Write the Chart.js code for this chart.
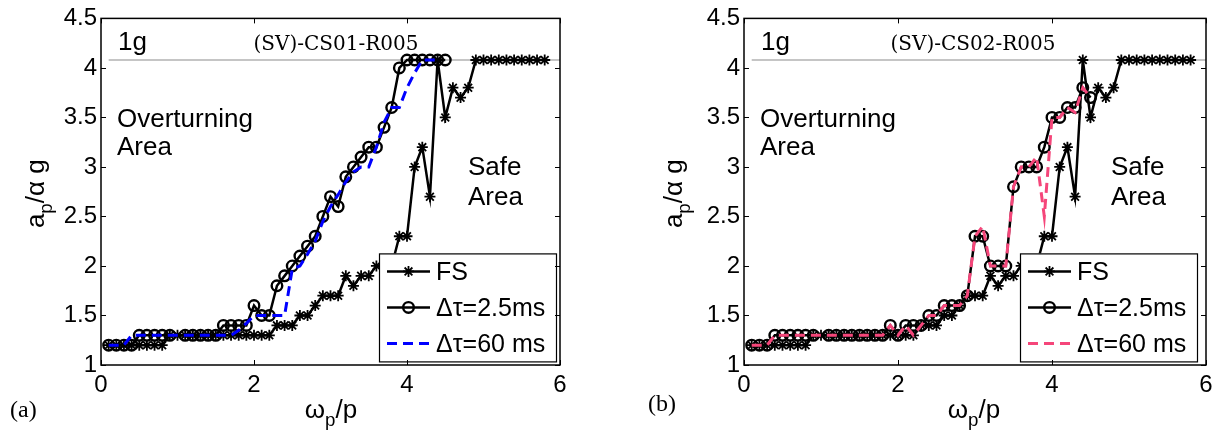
<!DOCTYPE html>
<html>
<head>
<meta charset="utf-8">
<script src="https://cdn.jsdelivr.net/npm/chart.js@4/dist/chart.umd.min.js"></script>
<style>
  html, body { margin: 0; padding: 0; background: #fff; }
  #wrap { position: relative; width: 1227px; height: 437px; overflow: hidden; }
  canvas { position: absolute; top: 0; }
  #cvA { left: 0; }
  #cvB { left: 613px; }
</style>
</head>
<body>
<div id="wrap">
  <canvas id="cvA" width="613" height="437"></canvas>
  <canvas id="cvB" width="614" height="437"></canvas>
</div>
<script>
// ---- axis ticks ----
const xTicks = [0, 2, 4, 6];
const yTicks = [1, 1.5, 2, 2.5, 3, 3.5, 4, 4.5];

// ---- overturning limit (1g) ----
const limitLevel = 4.08;
const limitRange = [0.1, 6];

// ---- fixed-base (FS) response, shared by both cases ----
const fsOmega = [0.1,0.2,0.3,0.4,0.5,0.6,0.7,0.8,0.9,1.0,1.1,1.2,1.3,1.4,1.5,1.6,1.7,1.8,1.9,2.0,
  2.1,2.2,2.3,2.4,2.5,2.6,2.7,2.8,2.9,3.0,3.1,3.2,3.3,3.4,3.5,3.6,3.7,3.8,3.9,4.0,
  4.1,4.2,4.3,4.4,4.5,4.6,4.7,4.8,4.9,5.0,5.1,5.2,5.3,5.4,5.5,5.6,5.7,5.8];
const fsAccel = [1.2,1.2,1.2,1.2,1.2,1.2,1.2,1.2,1.3,1.3,1.3,1.3,1.3,1.3,1.3,1.3,1.3,1.3,1.3,1.3,
  1.3,1.3,1.4,1.4,1.4,1.5,1.5,1.6,1.7,1.7,1.7,1.9,1.8,1.9,1.9,2.0,2.0,2.0,2.3,2.3,
  3.0,3.2,2.7,4.08,3.5,3.8,3.7,3.8,4.08,4.08,4.08,4.08,4.08,4.08,4.08,4.08,4.08,4.08];

// ---- (SV)-CS01-R005 ----
const cs01Omega25 = [0.1,0.2,0.3,0.4,0.5,0.6,0.7,0.8,0.9,1.1,1.2,1.3,1.4,1.5,1.6,1.7,1.8,1.9,2.0,
  2.1,2.2,2.3,2.4,2.5,2.6,2.7,2.8,2.9,3.0,3.1,3.2,3.3,3.4,3.5,3.6,3.7,3.8,3.9,4.0,4.1,4.2,4.3,4.4,4.5];
const cs01Accel25 = [1.2,1.2,1.2,1.2,1.3,1.3,1.3,1.3,1.3,1.3,1.3,1.3,1.3,1.3,1.4,1.4,1.4,1.4,1.6,
  1.5,1.5,1.8,1.9,2.0,2.1,2.2,2.3,2.5,2.7,2.6,2.9,3.0,3.1,3.2,3.2,3.4,3.6,4.0,4.08,4.08,4.08,4.08,4.08,4.08];
const cs01Omega60 = [0.1,0.2,0.3,0.4,0.5,0.6,0.7,0.8,0.9,1.0,1.1,1.2,1.3,1.4,1.5,1.6,1.7,1.8,1.9,2.0,
  2.1,2.2,2.3,2.4,2.5,2.6,2.7,2.8,2.9,3.0,3.1,3.2,3.3,3.4,3.5,3.6,3.7,3.8,3.9,4.0,4.1,4.2,4.3,4.4];
const cs01Accel60 = [1.2,1.2,1.2,1.3,1.3,1.3,1.3,1.3,1.3,1.3,1.3,1.3,1.3,1.3,1.3,1.3,1.3,1.35,1.42,1.5,
  1.5,1.5,1.5,1.5,1.97,2.0,2.12,2.25,2.45,2.6,2.72,2.85,2.95,3.0,3.0,3.2,3.45,3.6,3.6,3.8,3.95,4.08,4.08,4.08];

// ---- (SV)-CS02-R005 ----
const cs02Omega25 = [0.1,0.2,0.3,0.4,0.5,0.6,0.7,0.8,0.9,1.1,1.2,1.3,1.4,1.5,1.6,1.7,1.8,1.9,2.0,
  2.1,2.2,2.3,2.4,2.5,2.6,2.7,2.8,2.9,3.0,3.1,3.2,3.3,3.4,3.5,3.6,3.7,3.8,3.9,4.0,4.1,4.2,4.3,4.4,4.5];
const cs02Accel25 = [1.2,1.2,1.2,1.3,1.3,1.3,1.3,1.3,1.3,1.3,1.3,1.3,1.3,1.3,1.3,1.3,1.3,1.4,1.3,
  1.4,1.4,1.4,1.5,1.5,1.6,1.6,1.6,1.7,2.3,2.3,2.0,2.0,2.0,2.8,3.0,3.0,3.0,3.2,3.5,3.5,3.6,3.6,3.8,3.7];
const cs02Omega60 = [0.1,0.2,0.3,0.4,0.5,0.6,0.7,0.8,0.9,1.0,1.1,1.2,1.3,1.4,1.5,1.6,1.7,1.8,1.9,2.0,
  2.1,2.2,2.3,2.4,2.5,2.6,2.7,2.8,2.9,3.0,3.1,3.2,3.3,3.4,3.5,3.6,3.7,3.8,3.9,4.0,4.1,4.2,4.3,4.4,4.5];
const cs02Accel60 = [1.2,1.2,1.2,1.3,1.3,1.3,1.3,1.3,1.3,1.3,1.3,1.3,1.3,1.3,1.3,1.3,1.3,1.3,1.4,1.3,
  1.4,1.3,1.4,1.5,1.5,1.6,1.6,1.6,1.7,2.3,2.4,2.0,2.0,2.0,2.8,3.0,3.0,3.1,2.5,3.5,3.5,3.6,3.55,3.8,3.7];

const SANS = '"Liberation Sans", Arial, sans-serif';
const SERIF = '"Liberation Serif", "Times New Roman", serif';
const CASE_FONT = '"DejaVu Serif", serif';

function pts(xs, ys) { return xs.map((x, i) => ({ x: x, y: ys[i] })); }

// text with subscript runs
function drawRich(ctx, parts, x, y, size, align) {
  const subScale = 0.72;
  let w = 0;
  parts.forEach(p => {
    ctx.font = (p.sub ? size * subScale : size) + 'px ' + SANS;
    p.w = ctx.measureText(p.t).width;
    w += p.w;
  });
  let cx = align === 'center' ? x - w / 2 : x;
  ctx.textAlign = 'left';
  ctx.textBaseline = 'alphabetic';
  parts.forEach(p => {
    ctx.font = (p.sub ? size * subScale : size) + 'px ' + SANS;
    ctx.fillText(p.t, cx, y + (p.sub ? size * 0.32 : 0));
    cx += p.w;
  });
}

const panelDecor = {
  id: 'panelDecor',
  afterDraw(chart, args, o) {
    const ctx = chart.ctx;
    const ca = chart.chartArea;
    const xs = chart.scales.x, ys = chart.scales.y;
    ctx.save();

    // legend box
    const lx = ca.left + o.legendDx, ly = ca.top + 235, lw = 177, lh = 108;
    ctx.fillStyle = '#fff';
    ctx.fillRect(lx, ly, lw, lh);
    ctx.strokeStyle = '#000';
    ctx.lineWidth = 1.2;
    ctx.strokeRect(lx + 0.5, ly + 0.5, lw, lh);
    const entries = chart.data.datasets.filter(d => d.inLegend).sort((a, b) => b.order - a.order);
    entries.forEach((d, i) => {
      const cy = ly + 18 + i * 36;
      ctx.save();
      ctx.strokeStyle = d.borderColor;
      ctx.lineWidth = d.borderWidth;
      ctx.setLineDash(d.borderDash || []);
      ctx.beginPath();
      ctx.moveTo(lx + 8, cy);
      ctx.lineTo(lx + 51, cy);
      ctx.stroke();
      ctx.restore();
      if (d.pointRadius > 0) {
        ctx.save();
        ctx.strokeStyle = d.pointBorderColor || d.borderColor;
        ctx.fillStyle = d.pointBackgroundColor || 'rgba(0,0,0,0)';
        ctx.lineWidth = d.pointBorderWidth;
        Chart.helpers.drawPoint(ctx, { pointStyle: d.pointStyle, radius: d.pointRadius, rotation: 0, borderWidth: d.pointBorderWidth }, lx + 29.5, cy);
        ctx.restore();
      }
      ctx.fillStyle = '#000';
      ctx.font = '25px ' + SANS;
      ctx.textAlign = 'left';
      ctx.textBaseline = 'alphabetic';
      ctx.fillText(d.label, lx + 57, cy + 9);
    });

    // axes box and inward ticks
    ctx.strokeStyle = '#000';
    ctx.lineWidth = 1.5;
    ctx.strokeRect(ca.left, ca.top, ca.right - ca.left, ca.bottom - ca.top);
    const tl = 5;
    ctx.lineWidth = 1;
    ctx.beginPath();
    ys.ticks.forEach(t => {
      const py = Math.round(ys.getPixelForValue(t.value)) + 0.5;
      ctx.moveTo(ca.left, py); ctx.lineTo(ca.left + tl, py);
      ctx.moveTo(ca.right, py); ctx.lineTo(ca.right - tl, py);
    });
    xs.ticks.forEach(t => {
      const px = Math.round(xs.getPixelForValue(t.value)) + 0.5;
      ctx.moveTo(px, ca.bottom); ctx.lineTo(px, ca.bottom - tl);
      ctx.moveTo(px, ca.top); ctx.lineTo(px, ca.top + tl);
    });
    ctx.stroke();

    // annotations
    ctx.fillStyle = '#000';
    ctx.textBaseline = 'alphabetic';
    ctx.textAlign = 'left';
    ctx.font = '26px ' + SANS;
    ctx.fillText('1g', ca.left + 17, ca.top + 32);
    ctx.fillText('Overturning', ca.left + 16, ca.top + 109);
    ctx.fillText('Area', ca.left + 16, ca.top + 137);
    ctx.fillText('Safe', ca.left + 367, ca.top + 157);
    ctx.fillText('Area', ca.left + 367, ca.top + 187);
    // case name, sized to span 165 px
    ctx.font = '20px ' + CASE_FONT;
    const cw = ctx.measureText(o.caseName).width;
    const cs = Math.min(26, 20 * 165 / cw);
    ctx.font = cs.toFixed(1) + 'px ' + CASE_FONT;
    ctx.textAlign = 'center';
    ctx.fillText(o.caseName, ca.left + o.caseDx, ca.top + 32);

    // axis titles
    drawRich(ctx, [{ t: 'ω' }, { t: 'p', sub: true }, { t: '/p' }], ca.left + 230, 418, 26, 'center');
    ctx.save();
    ctx.translate(ca.left - o.yTitleDx, (ca.top + ca.bottom) / 2 + 2);
    ctx.rotate(-Math.PI / 2);
    drawRich(ctx, [{ t: 'a' }, { t: 'p', sub: true }, { t: '/α g' }], 0, 0, 26, 'center');
    ctx.restore();

    // panel tag
    ctx.font = '24px ' + SERIF;
    ctx.textAlign = 'left';
    ctx.fillStyle = '#000';
    ctx.fillText(o.tag, o.tagX, o.tagY);
    ctx.restore();
  }
};

function makePanel(canvasId, cfg) {
  const datasets = [
    {
      label: 'limit', data: pts(limitRange, [limitLevel, limitLevel]),
      borderColor: '#8c8c8c', borderWidth: 1.2, pointRadius: 0, order: 9, inLegend: false
    },
    {
      label: 'FS', data: pts(fsOmega, fsAccel),
      borderColor: '#000', borderWidth: 2.5, pointStyle: 'star', pointRadius: 5.5,
      pointBorderColor: '#000', pointBorderWidth: 1.8, pointBackgroundColor: '#000', order: 3, inLegend: true
    },
    {
      label: 'Δτ=2.5ms', data: pts(cfg.omega25, cfg.accel25),
      borderColor: '#000', borderWidth: 2.5, pointStyle: 'circle', pointRadius: 5.3,
      pointBorderColor: '#000', pointBorderWidth: 2.4, pointBackgroundColor: 'rgba(0,0,0,0)', order: 2, inLegend: true
    },
    {
      label: 'Δτ=60 ms', data: pts(cfg.omega60, cfg.accel60),
      borderColor: cfg.dashColor, borderWidth: 3, borderDash: [10, 6], pointRadius: 0, order: 1, inLegend: true
    }
  ];
  const tickLabel = v => String(v);
  return new Chart(document.getElementById(canvasId), {
    type: 'scatter',
    data: { datasets: datasets },
    options: {
      responsive: false,
      animation: false,
      devicePixelRatio: 1,
      showLine: true,
      layout: { padding: { left: 0, top: 16, right: cfg.padRight, bottom: 0 } },
      elements: { line: { tension: 0, fill: false } },
      plugins: {
        legend: { display: false },
        tooltip: { enabled: false },
        panelDecor: cfg.decor
      },
      scales: {
        x: {
          type: 'linear', min: 0, max: 6,
          afterBuildTicks: s => { s.ticks = xTicks.map(v => ({ value: v })); },
          afterFit: s => { s.height = 72; },
          grid: { display: false, drawTicks: false },
          border: { display: false },
          ticks: { color: '#000', font: { size: 24, family: SANS }, padding: 6, callback: tickLabel }
        },
        y: {
          type: 'linear', min: 1, max: 4.5,
          afterBuildTicks: s => { s.ticks = yTicks.map(v => ({ value: v })); },
          afterFit: s => { s.width = cfg.yWidth; },
          grid: { display: false, drawTicks: false },
          border: { display: false },
          ticks: { color: '#000', font: { size: 24, family: SANS }, padding: 4, callback: tickLabel }
        }
      }
    },
    plugins: [panelDecor]
  });
}

makePanel('cvA', {
  omega25: cs01Omega25, accel25: cs01Accel25, omega60: cs01Omega60, accel60: cs01Accel60,
  dashColor: '#0000ff', padRight: 53, yWidth: 101,
  decor: { legendDx: 278, caseName: '(SV)-CS01-R005', caseDx: 235, yTitleDx: 57, tag: '(a)', tagX: 10, tagY: 417 }
});
makePanel('cvB', {
  omega25: cs02Omega25, accel25: cs02Accel25, omega60: cs02Omega60, accel60: cs02Accel60,
  dashColor: '#f5467a', padRight: 21, yWidth: 131,
  decor: { legendDx: 276, caseName: '(SV)-CS02-R005', caseDx: 229, yTitleDx: 62, tag: '(b)', tagX: 35, tagY: 411 }
});
</script>
</body>
</html>
